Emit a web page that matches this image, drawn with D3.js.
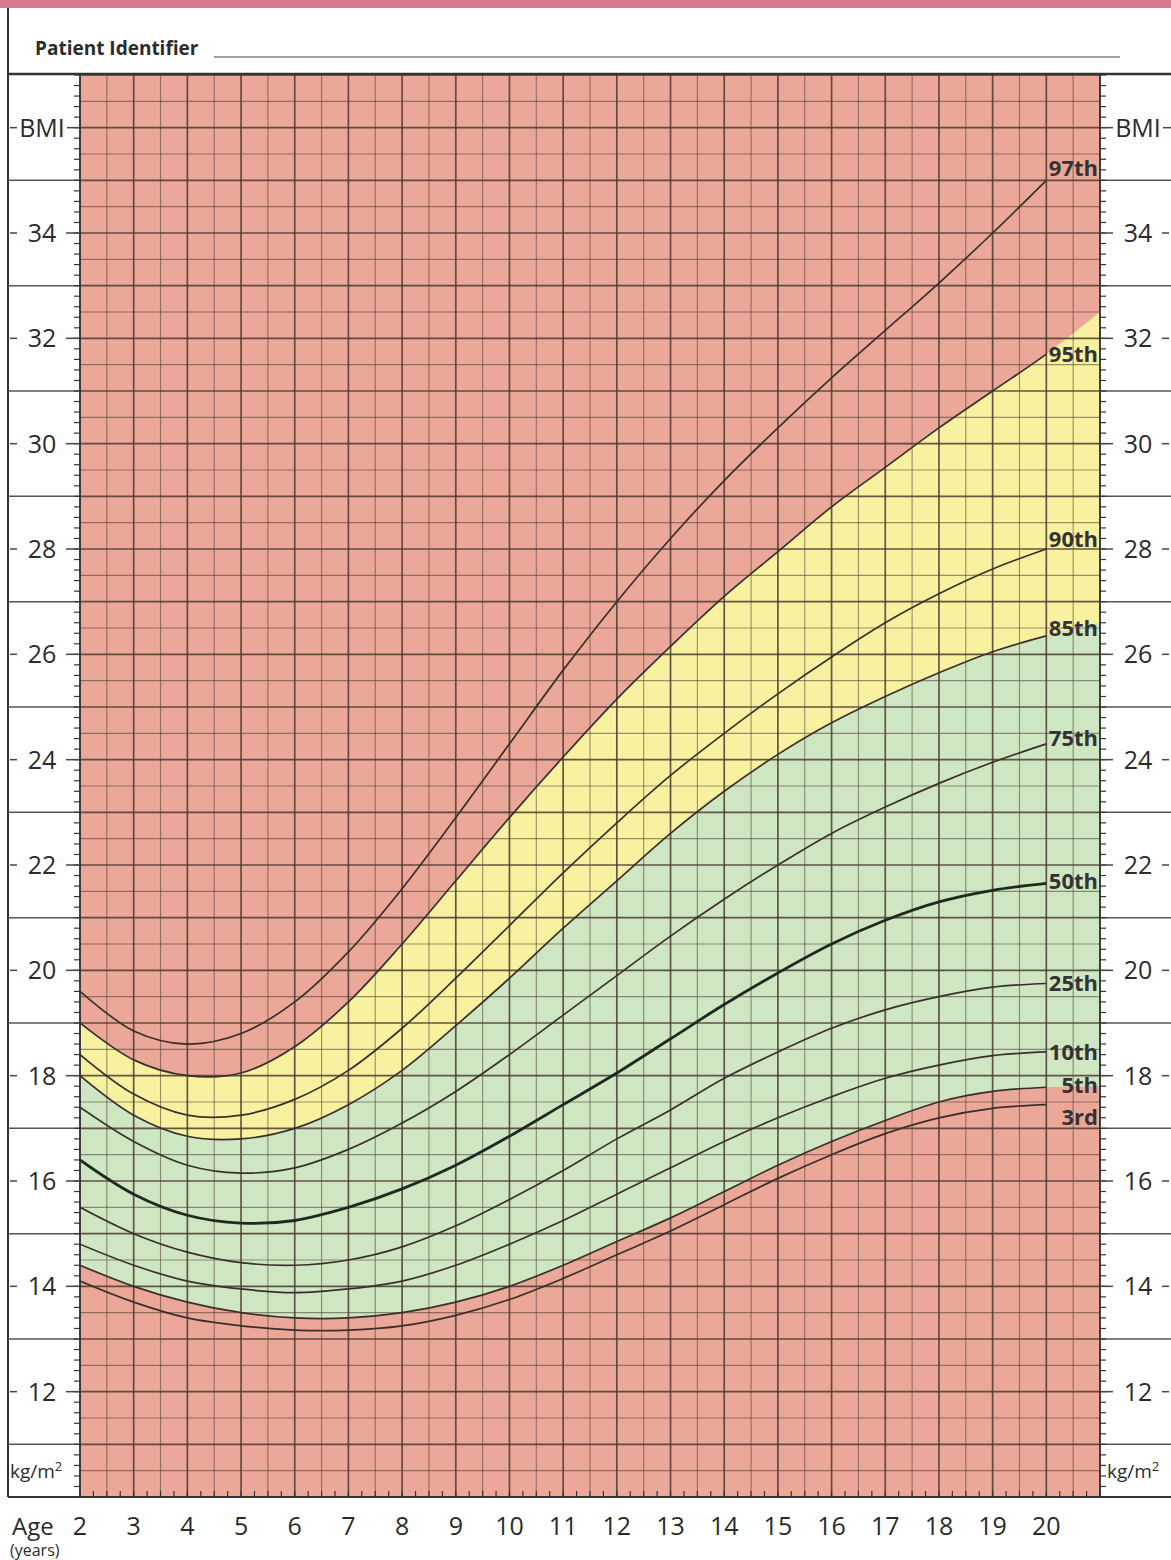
<!DOCTYPE html>
<html>
<head>
<meta charset="utf-8">
<style>
body, html {
	margin: 0;
	background: #fff;
}
svg text {
	font-family: "Open Sans", "Noto Sans", sans-serif;
	fill: #2b2b2b;
}
</style>
</head>
<body>
<div id="chartContainer"></div>
<script src="https://cdn.jsdelivr.net/npm/d3@7/dist/d3.min.js"></script>
<script>

// ---- data (BMI kg/m2 at each whole year of age) ----
const AGES = [2, 3, 4, 5, 6, 7, 8, 9, 10, 11, 12, 13, 14, 15, 16, 17, 18, 19, 20];
const P3  = [14.1, 13.7, 13.4, 13.25, 13.17, 13.17, 13.25, 13.45, 13.75, 14.15, 14.6, 15.05, 15.55, 16.05, 16.5, 16.9, 17.2, 17.38, 17.45];
const P5  = [14.4, 14.0, 13.7, 13.5, 13.4, 13.4, 13.5, 13.7, 14.0, 14.4, 14.85, 15.3, 15.8, 16.3, 16.75, 17.15, 17.5, 17.7, 17.78];
const P10 = [14.8, 14.4, 14.1, 13.95, 13.88, 13.95, 14.1, 14.4, 14.8, 15.25, 15.75, 16.25, 16.75, 17.2, 17.6, 17.95, 18.2, 18.38, 18.45];
const P25 = [15.5, 15.0, 14.65, 14.45, 14.4, 14.5, 14.75, 15.15, 15.65, 16.2, 16.8, 17.35, 17.95, 18.45, 18.9, 19.25, 19.5, 19.68, 19.75];
const P50 = [16.4, 15.75, 15.35, 15.2, 15.25, 15.5, 15.85, 16.3, 16.85, 17.45, 18.05, 18.7, 19.35, 19.95, 20.5, 20.95, 21.3, 21.52, 21.65];
const P75 = [17.4, 16.75, 16.3, 16.15, 16.25, 16.6, 17.1, 17.7, 18.4, 19.15, 19.9, 20.65, 21.35, 22.0, 22.6, 23.1, 23.55, 23.95, 24.3];
const P85 = [18.0, 17.25, 16.85, 16.8, 17.0, 17.45, 18.1, 18.95, 19.85, 20.8, 21.7, 22.6, 23.4, 24.1, 24.7, 25.2, 25.65, 26.05, 26.35];
const P90 = [18.4, 17.65, 17.25, 17.25, 17.55, 18.1, 18.9, 19.85, 20.85, 21.85, 22.8, 23.7, 24.5, 25.25, 25.95, 26.6, 27.15, 27.62, 28.0];
const P95 = [19.0, 18.3, 18.0, 18.05, 18.55, 19.4, 20.5, 21.7, 22.9, 24.05, 25.15, 26.15, 27.1, 27.95, 28.8, 29.55, 30.3, 31.0, 31.7];
const P97 = [19.6, 18.85, 18.6, 18.8, 19.4, 20.35, 21.55, 22.9, 24.3, 25.7, 27.0, 28.2, 29.3, 30.3, 31.25, 32.15, 33.05, 34.0, 35.0];

// the coloured zones run on to age 21 (right edge of the grid)
const EDGE_AGE = 21;
const EDGE_P5 = 17.8;
const EDGE_P85 = 26.6;
const EDGE_P95 = 32.5;

const PERCENTILE_NAMES = ["3rd", "5th", "10th", "25th", "50th", "75th", "85th", "90th", "95th", "97th"];
const PERCENTILE_VALUES = [P3, P5, P10, P25, P50, P75, P85, P90, P95, P97];

const BMI_TICKS = [12, 14, 16, 18, 20, 22, 24, 26, 28, 30, 32, 34];
const AGE_TICKS = [2, 3, 4, 5, 6, 7, 8, 9, 10, 11, 12, 13, 14, 15, 16, 17, 18, 19, 20];

// ---- look ----
const WIDTH = 1171;
const HEIGHT = 1560;
const PLOT_LEFT = 80;
const PLOT_RIGHT = 1100;
const PLOT_TOP = 75;
const PLOT_BOTTOM = 1497;

const RED_FILL = '#eba797';
const YELLOW_FILL = '#f8f19f';
const GREEN_FILL = '#cfe6c2';
const GRID_COLOR = '#4b3a33';
const LINE_COLOR = '#3a302b';
const FRAME_COLOR = '#333';

// nudges for the percentile names so they sit like on the paper chart
const LABEL_NUDGE = {"97th": -12, "95th": 0, "90th": -10, "85th": -8, "75th": -6, "50th": -2, "25th": 0, "10th": 0, "5th": -2, "3rd": 13};

var x = d3.scaleLinear().domain([2, 21]).range([PLOT_LEFT, PLOT_RIGHT]);
var y = d3.scaleLinear().domain([10, 37]).range([PLOT_BOTTOM, PLOT_TOP]);

var svg = d3.select("#chartContainer").append("svg")
	.attr("width", WIDTH)
	.attr("height", HEIGHT);

// header
svg.append("rect").attr("x", 0).attr("y", 0).attr("width", WIDTH).attr("height", 8).attr("fill", "#d9788f");
svg.append("text")
	.attr("x", 35).attr("y", 55)
	.attr("font-size", "19px").attr("font-weight", "bold")
	.text("Patient Identifier");
svg.append("line")
	.attr("x1", 214).attr("x2", 1120).attr("y1", 57).attr("y2", 57)
	.style("stroke", "#444").style("stroke-width", 1.2);

// zones
var plot = svg.append("g").attr("class", "plot");
plot.append("rect")
	.attr("x", PLOT_LEFT).attr("y", PLOT_TOP)
	.attr("width", PLOT_RIGHT - PLOT_LEFT).attr("height", PLOT_BOTTOM - PLOT_TOP)
	.attr("fill", RED_FILL);

var zoneAges = AGES.concat([EDGE_AGE]);
function zoneRows(lower, lowerEdge, upper, upperEdge) {
	var lo = lower.concat([lowerEdge]);
	var hi = upper.concat([upperEdge]);
	return zoneAges.map((a, i) => ({age: a, lo: lo[i], hi: hi[i]}));
}

const SMOOTH = d3.curveCatmullRom.alpha(0.5);

var area = d3.area()
	.curve(SMOOTH)
	.x((d) => x(d.age))
	.y0((d) => y(d.lo))
	.y1((d) => y(d.hi));

plot.append("path")
	.datum(zoneRows(P5, EDGE_P5, P85, EDGE_P85))
	.attr("fill", GREEN_FILL)
	.attr("d", area);
plot.append("path")
	.datum(zoneRows(P85, EDGE_P85, P95, EDGE_P95))
	.attr("fill", YELLOW_FILL)
	.attr("d", area);

// grid: half-year and half-unit lines, whole ones heavier
var grid = svg.append("g").attr("class", "grid");
d3.range(2, 21.01, 0.5).forEach(function(a) {
	var major = Math.abs(a - Math.round(a)) < 1e-6;
	grid.append("line")
		.attr("x1", x(a)).attr("x2", x(a))
		.attr("y1", PLOT_TOP).attr("y2", PLOT_BOTTOM)
		.style("stroke", GRID_COLOR)
		.style("stroke-opacity", major ? 0.85 : 0.55)
		.style("stroke-width", major ? 1.7 : 1.1);
});
d3.range(10, 37.01, 0.5).forEach(function(b) {
	var major = Math.abs(b - Math.round(b)) < 1e-6;
	grid.append("line")
		.attr("x1", PLOT_LEFT).attr("x2", PLOT_RIGHT)
		.attr("y1", y(b)).attr("y2", y(b))
		.style("stroke", GRID_COLOR)
		.style("stroke-opacity", major ? 0.85 : 0.55)
		.style("stroke-width", major ? 1.7 : 1.1);
});

// percentile curves (drawn to age 20 only)
svg.append("clipPath").attr("id", "toTwenty")
	.append("rect")
	.attr("x", PLOT_LEFT).attr("y", PLOT_TOP)
	.attr("width", x(20) - PLOT_LEFT).attr("height", PLOT_BOTTOM - PLOT_TOP);

var edges = {"5th": EDGE_P5, "85th": EDGE_P85, "95th": EDGE_P95};
var curves = PERCENTILE_NAMES.map(function(name, i) {
	var vals = PERCENTILE_VALUES[i];
	var pts = AGES.map((a, j) => ({age: a, bmi: vals[j]}));
	if (edges[name] !== undefined) pts.push({age: EDGE_AGE, bmi: edges[name]});
	return {name: name, points: pts, last: vals[vals.length - 1]};
});

var line = d3.line()
	.curve(SMOOTH)
	.x((d) => x(d.age))
	.y((d) => y(d.bmi));

svg.append("g").attr("class", "curves")
	.attr("clip-path", "url(#toTwenty)")
	.selectAll("path")
	.data(curves)
	.enter().append("path")
		.attr("fill", "none")
		.style("stroke", (d) => d.name === "50th" ? "#1e2a1e" : LINE_COLOR)
		.style("stroke-width", (d) => d.name === "50th" ? 2.8 : 1.7)
		.attr("d", (d) => line(d.points));

svg.append("g").attr("class", "curve-labels")
	.selectAll("text")
	.data(curves)
	.enter().append("text")
		.attr("x", PLOT_RIGHT - 2)
		.attr("y", (d) => y(d.last) + LABEL_NUDGE[d.name])
		.attr("dy", "0.35em")
		.attr("text-anchor", "end")
		.attr("font-size", "22px")
		.attr("font-weight", "bold")
		.style("fill", "#333")
		.text((d) => d.name);

// frame
var frame = svg.append("g").attr("class", "frame")
	.style("stroke", FRAME_COLOR);
frame.append("line").attr("x1", 8).attr("x2", 8).attr("y1", 8).attr("y2", PLOT_BOTTOM).style("stroke-width", 2);
frame.append("line").attr("x1", 8).attr("x2", WIDTH).attr("y1", 74).attr("y2", 74).style("stroke-width", 2.5);
frame.append("line").attr("x1", 8).attr("x2", WIDTH).attr("y1", PLOT_BOTTOM).attr("y2", PLOT_BOTTOM).style("stroke-width", 2);
frame.append("line").attr("x1", PLOT_LEFT).attr("x2", PLOT_LEFT).attr("y1", PLOT_TOP).attr("y2", PLOT_BOTTOM).style("stroke-width", 1.6);
frame.append("line").attr("x1", PLOT_RIGHT).attr("x2", PLOT_RIGHT).attr("y1", PLOT_TOP).attr("y2", PLOT_BOTTOM).style("stroke-width", 1.6);

// margin rules at the odd BMI values
d3.range(11, 36, 2).forEach(function(b) {
	frame.append("line").attr("x1", 8).attr("x2", PLOT_LEFT).attr("y1", y(b)).attr("y2", y(b))
		.style("stroke", "#555").style("stroke-width", 1.5);
	frame.append("line").attr("x1", PLOT_RIGHT).attr("x2", WIDTH).attr("y1", y(b)).attr("y2", y(b))
		.style("stroke", "#555").style("stroke-width", 1.5);
});

// small ticks on the BMI axes every 0.2
d3.range(10, 37.001, 0.2).forEach(function(b) {
	frame.append("line").attr("x1", PLOT_LEFT - 6).attr("x2", PLOT_LEFT).attr("y1", y(b)).attr("y2", y(b)).style("stroke-width", 1.2);
	frame.append("line").attr("x1", PLOT_RIGHT).attr("x2", PLOT_RIGHT + 6).attr("y1", y(b)).attr("y2", y(b)).style("stroke-width", 1.2);
});
// small ticks on the age axis every quarter year
d3.range(2, 21.001, 0.25).forEach(function(a) {
	frame.append("line").attr("x1", x(a)).attr("x2", x(a)).attr("y1", PLOT_BOTTOM).attr("y2", PLOT_BOTTOM - 6).style("stroke-width", 1.2);
});

// BMI labels, both sides, with their little dashes
var axisText = svg.append("g").attr("class", "axis-labels");
function sideLabel(cx, dashes, value, label) {
	axisText.append("text")
		.attr("x", cx).attr("y", y(value)).attr("dy", "0.36em")
		.attr("text-anchor", "middle")
		.attr("font-size", "25px")
		.text(label);
	dashes.forEach(function(d) {
		axisText.append("line")
			.attr("x1", d[0]).attr("x2", d[1]).attr("y1", y(value)).attr("y2", y(value))
			.style("stroke", "#444").style("stroke-width", 1.5);
	});
}
BMI_TICKS.forEach(function(b) {
	sideLabel(42, [[10, 17], [66, 80]], b, b);
	sideLabel(1138, [[1100, 1113], [1162, 1169]], b, b);
});
sideLabel(42, [[10, 17], [67, 80]], 36, "BMI");
sideLabel(1138, [[1100, 1113], [1163, 1171]], 36, "BMI");

function unitLabel(x0) {
	var t = axisText.append("text")
		.attr("x", x0).attr("y", y(10.5)).attr("dy", "0.36em")
		.attr("font-size", "19px");
	t.append("tspan").text("kg/m");
	t.append("tspan").attr("font-size", "13px").attr("dy", "-0.5em").text("2");
}
unitLabel(10);
unitLabel(1107);

// age axis
axisText.selectAll(".age")
	.data(AGE_TICKS)
	.enter().append("text")
		.attr("class", "age")
		.attr("x", (d) => x(d))
		.attr("y", 1535)
		.attr("text-anchor", "middle")
		.attr("font-size", "25px")
		.text((d) => d);
axisText.append("text").attr("x", 12).attr("y", 1535).attr("font-size", "24px").text("Age");
axisText.append("text").attr("x", 10).attr("y", 1556).attr("font-size", "16px").text("(years)");

</script>
</body>
</html>
